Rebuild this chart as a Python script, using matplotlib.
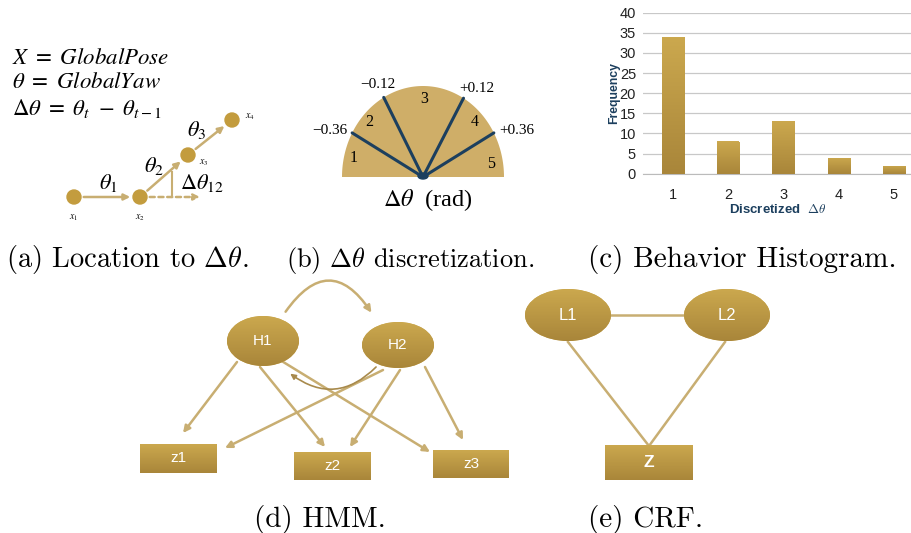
import matplotlib
matplotlib.use('Agg')
import matplotlib.pyplot as plt
import numpy as np
from matplotlib.patches import Ellipse, Rectangle, Polygon, Circle, FancyArrowPatch
from matplotlib.colors import LinearSegmentedColormap

# ---- data ----
hist_bins = [1, 2, 3, 4, 5]
hist_counts = [34, 8, 13, 4, 2]
boundary_labels = ['\u22120.36', '\u22120.12', '+0.12', '+0.36']
sector_labels = ['1', '2', '3', '4', '5']
pose_labels = ['$x_1$', '$x_2$', '$x_3$', '$x_4$']
hmm_hidden = ['H1', 'H2']
hmm_obs = ['z1', 'z2', 'z3']
crf_nodes = ['L1', 'L2']
crf_obs = ['Z']
captions = [r'(a) Location to $\Delta\theta$.', r'(b) $\Delta\theta$ discretization.',
            '(c) Behavior Histogram.', '(d) HMM.', '(e) CRF.']

GOLD_TOP = '#CBA84E'
GOLD_BOT = '#A9863A'
ARROW = '#C8AE72'
NAVY = '#1C3F5E'
gold_cmap = LinearSegmentedColormap.from_list('gold', [GOLD_TOP, GOLD_BOT])

fig = plt.figure(figsize=(9.12, 5.33), dpi=100)
ax = fig.add_axes([0, 0, 1, 1])
ax.set_xlim(0, 912)
ax.set_ylim(533, 0)
ax.axis('off')


def gradient_fill(a, patch, x0, x1, y0, y1, z=2):
    # vertical gold gradient clipped to a patch
    a.add_patch(patch)
    g = np.linspace(0, 1, 64).reshape(-1, 1)
    im = a.imshow(g, cmap=gold_cmap, extent=(x0, x1, y1, y0), aspect='auto',
                  zorder=z, interpolation='bilinear')
    im.set_clip_path(patch)
    a.set_xlim(0, 912)
    a.set_ylim(533, 0)


# ---- (a) location to delta theta ----
ax.text(12, 57, r'$X\ =\ GlobalPose$', math_fontfamily='stix', fontsize=16.5, va='center')
ax.text(12, 81, r'$\theta\ =\ GlobalYaw$', math_fontfamily='stix', fontsize=16.5, va='center')
ax.text(12, 109, r'$\Delta\theta\ =\ \theta_{t}\ -\ \theta_{t-1}$', math_fontfamily='stix',
        fontsize=16.5, va='center')

pose_xy = [(74, 197), (140, 197), (188, 155), (232, 120)]
for i in range(3):
    ax.add_patch(FancyArrowPatch(pose_xy[i], pose_xy[i + 1], arrowstyle='-|>', mutation_scale=9,
                                 color=ARROW, lw=1.8, shrinkA=7, shrinkB=7, zorder=3))
ax.add_patch(FancyArrowPatch((140, 197), (200, 197), arrowstyle='-|>', mutation_scale=9,
                             color=ARROW, lw=1.8, ls=(0, (2, 1.5)), shrinkA=7, shrinkB=0, zorder=3))
ax.plot([172, 172], [197, 172], color=ARROW, lw=1.5, zorder=3)
for (px, py) in pose_xy:
    ax.add_patch(Circle((px, py), 7, color='#C39C3E', zorder=4))
pose_lbl_xy = [(74, 218), (140, 218), (204, 163), (250, 117)]
for lbl, (px, py) in zip(pose_labels, pose_lbl_xy):
    ax.text(px, py, lbl, math_fontfamily='stix', fontsize=7, ha='center', va='center')
ax.text(108, 183, r'$\theta_1$', math_fontfamily='stix', fontsize=16, ha='center', va='center')
ax.text(154, 166, r'$\theta_2$', math_fontfamily='stix', fontsize=16, ha='center', va='center')
ax.text(197, 130, r'$\theta_3$', math_fontfamily='stix', fontsize=16, ha='center', va='center')
ax.text(202, 183, r'$\Delta\theta_{12}$', math_fontfamily='stix', fontsize=16, ha='center', va='center')

# ---- (b) discretization ----
cx, cy, rx, ry = 423, 177, 81, 91
t = np.linspace(0, np.pi, 100)
semi = Polygon(np.column_stack([cx + rx * np.cos(t), cy - ry * np.sin(t)]), closed=True,
               facecolor='#CFAE68', edgecolor='none', zorder=2)
ax.add_patch(semi)
bound_ang = [151, 119, 60, 29]
for ang in bound_ang:
    r = np.radians(ang)
    ax.plot([cx, cx + rx * np.cos(r)], [cy, cy - ry * np.sin(r)], color=NAVY, lw=2.2,
            solid_capstyle='round', zorder=3)
ax.add_patch(Ellipse((cx, cy - 1), 10, 6, color=NAVY, zorder=3))
bl_xy = [(348, 131, 'right'), (378, 84, 'center'), (477, 88, 'center'), (499, 131, 'left')]
for lbl, (bx, by, ha) in zip(boundary_labels, bl_xy):
    ax.text(bx, by, lbl, family='Liberation Serif', fontsize=11, ha=ha, va='center')
sl_xy = [(354, 158), (369, 122), (424, 99), (475, 122), (491, 164)]
for lbl, (sx, sy) in zip(sector_labels, sl_xy):
    ax.text(sx, sy, lbl, family='Liberation Serif', fontsize=11.5, ha='center', va='center')
ax.text(428, 200, r'$\Delta\theta$  (rad)', family='Liberation Serif', math_fontfamily='stix',
        fontsize=17.5, ha='center', va='center')

# ---- (c) histogram ----
x0, x1, y0, y1 = 643, 912, 12.7, 173.7
hx = fig.add_axes([x0 / 912, 1 - y1 / 533, (x1 - x0) / 912, (y1 - y0) / 533])
bars = hx.bar(hist_bins, hist_counts, width=0.4, color=GOLD_TOP, zorder=3)
for b in bars:
    bx, by = b.get_x(), b.get_y()
    w, h = b.get_width(), b.get_height()
    im = hx.imshow(np.linspace(0, 1, 64).reshape(-1, 1), cmap=gold_cmap,
                   extent=(bx, bx + w, by, by + h), aspect='auto', zorder=3, origin='upper')
    im.set_clip_path(b)
hx.set_xlim(0.457, 5.33)
hx.set_ylim(0, 40)
hx.set_yticks(range(0, 41, 5))
hx.set_xticks(hist_bins)
hx.grid(axis='y', color='#C8C8C8', lw=0.9, zorder=0)
for s in ['top', 'right', 'left']:
    hx.spines[s].set_visible(False)
hx.spines['bottom'].set_color('#BBBBBB')
hx.tick_params(length=0, labelsize=10.5, labelcolor='#222222', pad=5)
hx.tick_params(axis='x', pad=10)
for lab in hx.get_xticklabels() + hx.get_yticklabels():
    lab.set_family('Liberation Sans')
hx.set_ylabel('Frequency', family='Liberation Sans', fontsize=8.8, weight='bold', color=NAVY,
              labelpad=0)
hx.set_xlabel(r'Discretized  $\Delta\theta$', family='Liberation Sans', math_fontfamily='cm',
              fontsize=9.5, weight='bold', color=NAVY, labelpad=1)
hx.patch.set_alpha(0)

# ---- (d) HMM ----
hid_xy = [(263, 341, 72, 50), (398, 345, 72, 46)]
obs_xy = [(140, 444, 77, 29), (294, 452, 77, 28), (433, 450, 76, 28)]
hmm_edges = [((237, 362), (183, 433)), ((260, 367), (325, 447)), ((280, 360), (430, 452)),
             ((383, 370), (225, 448)), ((400, 370), (350, 447)), ((425, 367), (463, 440))]
for (s, e) in hmm_edges:
    ax.add_patch(FancyArrowPatch(s, e, arrowstyle='-|>', mutation_scale=10, color=ARROW, lw=1.8,
                                 shrinkA=0, shrinkB=0, zorder=1))
ax.add_patch(FancyArrowPatch((284, 314), (373, 315), connectionstyle='arc3,rad=-0.75',
                             arrowstyle='-|>', mutation_scale=10, color=ARROW, lw=1.8, zorder=1))
ax.add_patch(FancyArrowPatch((378, 365), (288, 372), connectionstyle='arc3,rad=-0.45',
                             arrowstyle='-|>', mutation_scale=8, color='#A88A4C', lw=1.2, zorder=1))
for lbl, (hx_, hy, w, h) in zip(hmm_hidden, hid_xy):
    gradient_fill(ax, Ellipse((hx_, hy), w, h, facecolor=GOLD_TOP, edgecolor='none', zorder=2),
                  hx_ - w / 2, hx_ + w / 2, hy - h / 2, hy + h / 2)
    ax.text(hx_, hy, lbl, family='Liberation Sans', fontsize=11, color='white',
            ha='center', va='center', zorder=5)
for lbl, (bx, by, w, h) in zip(hmm_obs, obs_xy):
    gradient_fill(ax, Rectangle((bx, by), w, h, facecolor=GOLD_TOP, edgecolor='none', zorder=2),
                  bx, bx + w, by, by + h)
    ax.text(bx + w / 2, by + h / 2, lbl, family='Liberation Sans', fontsize=11, color='white',
            ha='center', va='center', zorder=5)

# ---- (e) CRF ----
crf_xy = [(568, 315, 86, 52), (727, 315, 86, 52)]
z_box = (605, 445, 88, 35)
ax.plot([610, 685], [315, 315], color=ARROW, lw=1.8, zorder=1)
ax.plot([568, 649], [342, 446], color=ARROW, lw=1.8, zorder=1)
ax.plot([725, 649], [342, 446], color=ARROW, lw=1.8, zorder=1)
for lbl, (ex, ey, w, h) in zip(crf_nodes, crf_xy):
    gradient_fill(ax, Ellipse((ex, ey), w, h, facecolor=GOLD_TOP, edgecolor='none', zorder=2),
                  ex - w / 2, ex + w / 2, ey - h / 2, ey + h / 2)
    ax.text(ex, ey, lbl, family='Liberation Sans', fontsize=12, color='white',
            ha='center', va='center', zorder=5)
bx, by, w, h = z_box
gradient_fill(ax, Rectangle((bx, by), w, h, facecolor=GOLD_TOP, edgecolor='none', zorder=2),
              bx, bx + w, by, by + h)
ax.text(bx + w / 2, by + h / 2, crf_obs[0], family='Liberation Sans', fontsize=12.5, weight='bold',
        color='white', ha='center', va='center', zorder=5)

# ---- captions ----
cap_xy = [(127, 260), (410, 260), (742, 260), (320, 519), (646, 519)]
cap_size = [20.5, 19, 21, 21, 21]
for c, (tx, ty), fs in zip(captions, cap_xy, cap_size):
    ax.text(tx, ty, c, family='cmr10', math_fontfamily='cm', fontsize=fs,
            ha='center', va='center')

fig.savefig('out.png', dpi=100)
